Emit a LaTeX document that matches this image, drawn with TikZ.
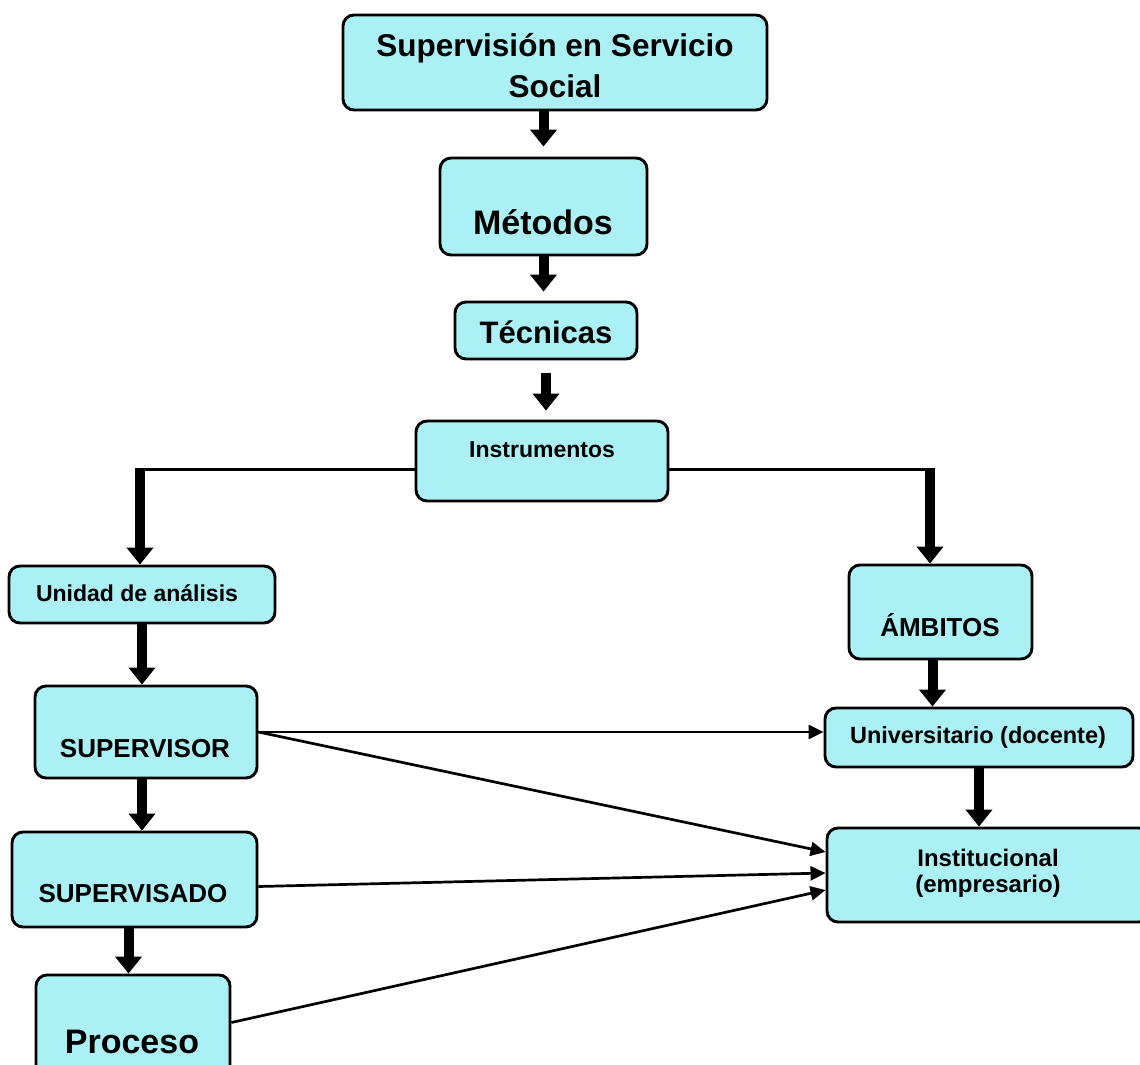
\documentclass[tikz,border=0pt]{standalone}
\usepackage{fontspec}
\setmainfont{Liberation Sans}
\usetikzlibrary{arrows.meta}
\definecolor{boxfill}{RGB}{170,240,245}
\begin{document}
\begin{tikzpicture}[x=1pt,y=-1pt,
  box/.style={draw=black, line width=2.9pt, rounded corners=11pt, fill=boxfill, inner sep=0pt},
  lbl/.style={anchor=base, inner sep=0pt},
  bigarrow/.style={line width=10pt, -{Triangle[length=17pt,width=26pt]}},
  smallarrow/.style={line width=2.7pt, -{Triangle[length=15pt,width=14pt]}},
  thinline/.style={line width=3pt}]
\useasboundingbox (0,0) rectangle (1140,1065);
\clip (0,0) rectangle (1140,1065);

% boxes
\node[box, minimum width=424pt, minimum height=95pt] (title) at (555,62.5) {};
\node[box, minimum width=207pt, minimum height=97pt] (met) at (543.5,206.5) {};
\node[box, minimum width=182pt, minimum height=57pt] (tec) at (546,330.5) {};
\node[box, minimum width=252pt, minimum height=80pt] (ins) at (542,461) {};
\node[box, minimum width=266pt, minimum height=57pt] (uni) at (142,594.5) {};
\node[box, minimum width=222pt, minimum height=92pt] (sup) at (146,732) {};
\node[box, minimum width=245pt, minimum height=95pt] (sdo) at (134.5,879.5) {};
\node[box, minimum width=194pt, minimum height=115pt] (pro) at (133,1032.5) {};
\node[box, minimum width=183pt, minimum height=94pt] (amb) at (940.5,612) {};
\node[box, minimum width=308pt, minimum height=59pt] (univ) at (979,737.5) {};
\node[box, minimum width=323pt, minimum height=94pt] (inst) at (988.5,875) {};

% thick vertical arrows
\draw[bigarrow, shorten >=10pt] (title.south -| met.north) -- (met.north);
\draw[bigarrow, shorten >=9pt] (met.south) -- (met.south |- tec.north);
\draw[bigarrow, shorten <=13pt, shorten >=9pt] (tec.south) -- (tec.south |- ins.north);

% branches from Instrumentos
\coordinate (lb) at (140,469);
\coordinate (rb) at (930,469);
\draw[thinline] (lb -| ins.west) -- ([xshift=-4.5pt]lb);
\draw[thinline] (rb -| ins.east) -- ([xshift=4.5pt]rb);
\draw[bigarrow] ([yshift=1.5pt]lb) -- (lb |- uni.north);
\draw[bigarrow] ([yshift=1.5pt]rb) -- (rb |- amb.north);

% left column
\draw[bigarrow] (uni.south) -- (uni.south |- sup.north);
\draw[bigarrow] (uni.south |- sup.south) -- (uni.south |- sdo.north);
\draw[bigarrow] ([xshift=-6pt]sdo.south) -- ([xshift=-6pt]sdo.south |- pro.north);

% right column
\draw[bigarrow] ([xshift=-8pt]amb.south) -- ([xshift=-8pt]amb.south |- univ.north);
\draw[bigarrow] (univ.south) -- (univ.south |- inst.north);

% thin arrows
\draw[smallarrow] (sup.east) -- (sup.east -| univ.west);
\draw[smallarrow] (sup.east) -- ([yshift=23pt]inst.west);
\draw[smallarrow] ([yshift=-7pt]sdo.east) -- ([yshift=2pt]inst.west);
\draw[smallarrow] ([yshift=10pt]pro.east) -- ([yshift=-15pt]inst.west);

% texts
\node[lbl, font=\bfseries\fontsize{31.5}{36}\selectfont] (titleA) at (555,57) {Supervisión en Servicio};
\node[lbl, font=\bfseries\fontsize{31.5}{36}\selectfont] (titleB) at (555,97) {Social};
\node[lbl, font=\bfseries\fontsize{34}{40}\selectfont] (metT) at (543,234) {Métodos};
\node[lbl, font=\bfseries\fontsize{31}{36}\selectfont] (tecT) at (546,343) {Técnicas};
\node[lbl, font=\bfseries\fontsize{23}{28}\selectfont] (insT) at (542,457) {Instrumentos};
\node[lbl, font=\bfseries\fontsize{23}{28}\selectfont] (uniT) at (137,601) {Unidad de análisis};
\node[lbl, font=\bfseries\fontsize{26}{30}\selectfont] (supT) at (145,757) {SUPERVISOR};
\node[lbl, font=\bfseries\fontsize{26}{30}\selectfont] (sdoT) at (133,902) {SUPERVISADO};
\node[lbl, font=\bfseries\fontsize{34}{40}\selectfont] (proT) at (132,1053) {Proceso};
\node[lbl, font=\bfseries\fontsize{26}{30}\selectfont] (ambT) at (940,636) {ÁMBITOS};
\node[lbl, font=\bfseries\fontsize{23.5}{28}\selectfont] (univT) at (978,743) {Universitario (docente)};
\node[lbl, font=\bfseries\fontsize{24}{28}\selectfont] (instA) at (988,866) {Institucional};
\node[lbl, font=\bfseries\fontsize{24}{28}\selectfont] (instB) at (988,892) {(empresario)};
\end{tikzpicture}
\end{document}
